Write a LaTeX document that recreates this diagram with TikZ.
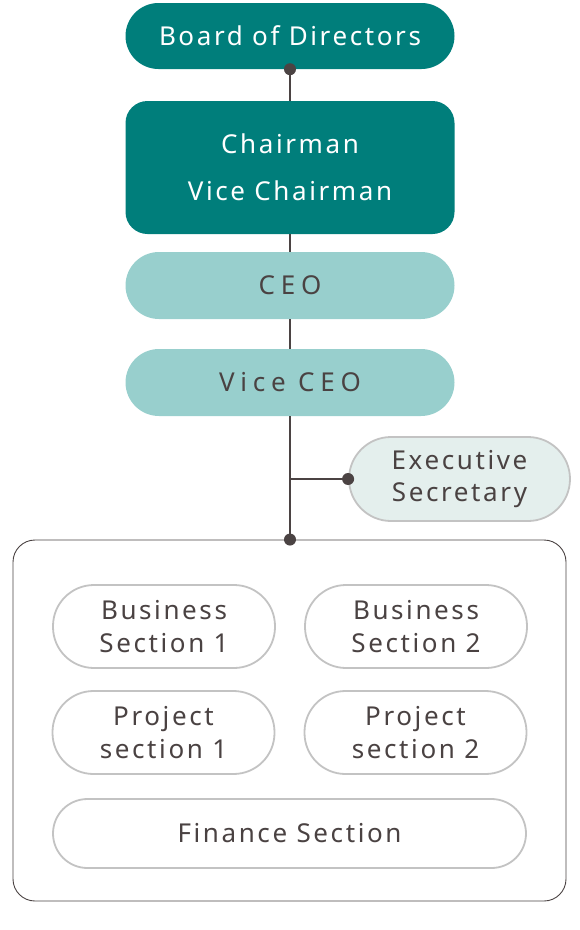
\documentclass[tikz,border=0pt]{standalone}
\usepackage{fontspec}
\setmainfont{Noto Sans}[LetterSpace=10]
\usetikzlibrary{positioning}
\definecolor{orgteal}{HTML}{007E7B}
\definecolor{orglight}{HTML}{98CFCD}
\definecolor{orgpale}{HTML}{E4EFED}
\definecolor{orgtext}{HTML}{4A4242}
\definecolor{orgline}{HTML}{4B4343}
\definecolor{orgedge}{HTML}{C3C3C3}

\begin{document}
\begin{tikzpicture}[
  x=1pt, y=-1pt,
  topbox/.style={fill=orgteal, text=white, minimum width=329pt, align=center, inner sep=0pt, font=\fontsize{26}{47}\selectfont},
  midbox/.style={fill=orglight, text=orgtext, minimum width=329pt, minimum height=67pt, rounded corners=33.5pt, inner sep=0pt, font=\fontsize{26}{30}\selectfont\addfontfeature{LetterSpace=22}},
  unitbox/.style={draw=orgedge, line width=1.8pt, fill=white, text=orgtext, rounded corners=41pt, minimum height=83pt, minimum width=222pt, align=center, inner sep=0pt, font=\fontsize{26}{33}\selectfont},
  link/.style={draw=orgline, line width=1.3pt},
  joint/.style={circle, fill=orgline, inner sep=0pt, minimum size=12pt}
]
  \useasboundingbox (0,0) rectangle (579,930);

  % top of the chart
  \node[topbox, minimum height=66pt, rounded corners=33pt] (board) at (290,36) {Board of Directors};
  \node[topbox, minimum height=133pt, rounded corners=22pt] (chair) at (290,167.5) {Chairman\\Vice Chairman};
  \node[midbox] (ceo) at (290,285.5) {CEO};
  \node[midbox] (vceo) at (290,382.5) {Vice CEO};
  \node[unitbox, fill=orgpale, minimum width=221pt, minimum height=84pt, rounded corners=42pt, font=\fontsize{26}{32}\selectfont] (secr) at (459.5,479) {Executive\\Secretary};

  % sections
  \node[draw=orgline, line width=0.9pt, rounded corners=22pt, minimum width=553pt, minimum height=361pt, inner sep=0pt] (sect) at (289.5,720.5) {};
  \node[unitbox] (bs1) at (164,626.5) {Business\\Section 1};
  \node[unitbox] (bs2) at (416,626.5) {Business\\Section 2};
  \node[unitbox] (ps1) at (163.5,732.5) {Project\\section 1};
  \node[unitbox] (ps2) at (415.5,732.5) {Project\\section 2};
  \node[unitbox, minimum width=473pt, minimum height=69pt, rounded corners=34.5pt] (fin) at (289.5,833.5) {Finance Section};

  % connectors
  \draw[link] (board.south) -- (chair.north);
  \draw[link] (chair.south) -- (ceo.north);
  \draw[link] (ceo.south) -- (vceo.north);
  \draw[link] (vceo.south) -- (vceo.south |- sect.north);
  \draw[link] (vceo.south |- secr.west) -- (secr.west);
  \node[joint] (j1) at (board.south) {};
  \node[joint] (j2) at (secr.west) {};
  \node[joint] (j3) at (vceo.south |- sect.north) {};
\end{tikzpicture}
\end{document}
